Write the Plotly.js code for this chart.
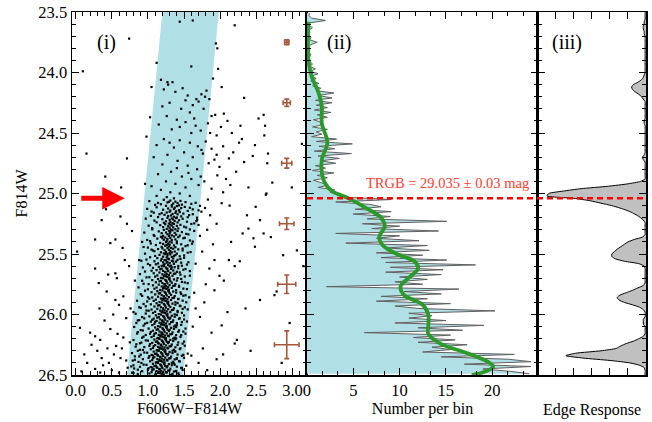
<!DOCTYPE html>
<html><head><meta charset="utf-8">
<script src="https://cdn.plot.ly/plotly-3.0.1.min.js"></script>
<style>html,body{margin:0;padding:0;background:#fff}</style>
</head><body><div id="chart" style="width:652px;height:422px"></div>
<script>
// ---------- data ----------
const trgbMag = 25.04;
const trgbText = 'TRGB = 29.035 ± 0.03 mag';

// selection band corners (colour, magnitude)
const bandColor = [1.20, 1.98, 1.49, 0.71];
const bandMag   = [23.5, 23.5, 26.5, 26.5];

// stars brighter than the TRGB [colour, F814W]
const starsBright = [[1.44,23.58],[1.62,23.57],[2.20,23.61],[0.74,23.72],[1.94,23.76],[1.96,23.80],[1.12,23.92],[1.60,23.95],[0.10,23.99],[1.97,23.97],
[1.18,24.06],[1.27,24.08],[1.34,24.08],[1.48,24.13],[1.05,24.12],[1.90,24.05],[2.02,24.12],[2.33,24.21],[1.81,24.15],[1.67,24.22],
[1.28,24.10],[1.22,24.14],[1.38,24.16],[1.74,24.18],[1.79,24.20],[1.70,24.24],[1.85,24.22],[1.55,24.19],[1.62,24.27],[1.30,24.25],
[1.20,24.28],[1.46,24.30],[1.77,24.30],[1.58,24.33],[1.88,24.36],[1.93,24.35],[2.05,24.34],[2.10,24.40],[1.26,24.36],[1.40,24.39],
[1.52,24.41],[1.66,24.44],[1.83,24.42],[2.01,24.45],[1.15,24.43],[1.33,24.47],[1.60,24.50],[1.73,24.48],[1.95,24.52],[2.16,24.50],
[1.03,24.37],[0.98,24.53],[1.22,24.55],[1.44,24.56],[1.58,24.58],[1.80,24.57],[1.69,24.61],[1.36,24.62],[1.12,24.60],[1.88,24.63],
[2.04,24.61],[2.26,24.58],[1.50,24.66],[1.27,24.68],[1.62,24.70],[1.76,24.67],[1.95,24.68],[2.12,24.71],[1.08,24.70],[1.41,24.73],
[1.20,24.76],[1.55,24.77],[1.84,24.75],[1.68,24.80],[1.32,24.82],[1.14,24.84],[1.47,24.86],[1.60,24.88],[1.25,24.90],[1.38,24.92],
[1.05,24.94],[1.52,24.95],[1.70,24.93],[1.18,24.97],[1.31,24.99],[1.44,25.00],[1.58,25.02],[1.26,25.03],[1.12,25.02],[1.36,25.04],
[2.53,24.38],[2.60,24.35],[2.62,24.44],[2.61,24.52],[2.66,24.67],[2.65,24.75],[2.72,24.91],[2.99,24.95],[3.13,24.59],[2.64,25.00],
[2.45,24.69],[2.33,24.74],[2.39,24.95],[2.22,24.82],[2.08,24.88],[1.96,24.85],[2.30,24.55],[2.18,24.66],[1.99,24.78],[2.48,24.60],
[0.15,24.67],[0.71,24.71],[0.41,24.86],[0.63,24.95],[0.96,24.92],[1.88,24.96],[2.04,24.99],[1.78,24.90],[1.52,24.23],[1.44,24.45],
[1.64,24.38],[1.86,24.50],[1.30,24.58],[1.74,24.64],[1.92,24.72],[1.56,24.83],[1.40,24.79],[1.73,24.86],[2.14,24.93],[2.28,24.44]];

// red giant branch stars fainter than the TRGB (core)
const starsRGB = [[1.22,25.052],[1.31,25.058],[1.45,25.061],[1.38,25.067],[1.52,25.071],[1.27,25.074],[1.41,25.079],[1.35,25.083],[1.60,25.086],[1.18,25.089],[1.47,25.092],[1.33,25.095],[1.43,25.098],[1.29,25.069],
[1.25,25.102],[1.40,25.104],[1.33,25.108],[1.51,25.111],[1.12,25.114],[1.37,25.117],[1.46,25.121],[1.28,25.124],[1.36,25.128],[1.62,25.131],[1.21,25.134],[1.43,25.137],[1.31,25.141],[1.55,25.144],[1.39,25.147],[1.05,25.149],
[1.30,25.151],[1.44,25.153],[1.26,25.157],[1.38,25.160],[1.19,25.163],[1.49,25.166],[1.34,25.169],[1.41,25.172],[1.23,25.176],[1.57,25.179],[1.32,25.182],[1.28,25.186],[1.46,25.189],[1.36,25.192],[1.14,25.195],[1.40,25.198],
[1.27,25.201],[1.39,25.203],[1.33,25.206],[1.48,25.209],[1.20,25.212],[1.35,25.215],[1.30,25.218],[1.43,25.221],[1.09,25.224],[1.37,25.227],[1.25,25.230],[1.54,25.233],[1.31,25.236],[1.41,25.239],[1.22,25.242],[1.34,25.245],[1.64,25.247],[1.29,25.249],
[1.36,25.251],[1.24,25.254],[1.31,25.257],[1.45,25.259],[1.17,25.262],[1.33,25.265],[1.40,25.268],[1.28,25.271],[1.50,25.274],[1.21,25.277],[1.35,25.280],[1.30,25.283],[1.06,25.286],[1.42,25.289],[1.26,25.292],[1.38,25.295],[1.58,25.297],[1.32,25.299],
[1.22,25.301],[1.34,25.304],[1.29,25.307],[1.41,25.310],[1.15,25.313],[1.31,25.316],[1.47,25.319],[1.25,25.322],[1.37,25.325],[1.19,25.328],[1.30,25.331],[1.53,25.334],[1.27,25.337],[1.39,25.340],[1.08,25.343],[1.33,25.346],[1.44,25.348],[1.21,25.350],
[1.29,25.352],[1.36,25.355],[1.18,25.358],[1.42,25.361],[1.24,25.364],[1.31,25.367],[1.49,25.370],[1.13,25.373],[1.27,25.376],[1.38,25.379],[1.22,25.382],[1.33,25.385],[1.58,25.388],[1.26,25.391],[1.03,25.394],[1.40,25.396],[1.30,25.398],[1.20,25.369],
[1.25,25.402],[1.33,25.405],[1.17,25.408],[1.40,25.411],[1.28,25.414],[1.21,25.417],[1.46,25.420],[1.30,25.423],[1.11,25.426],[1.36,25.429],[1.24,25.432],[1.52,25.435],[1.29,25.438],[1.19,25.441],[1.38,25.444],[1.00,25.447],[1.32,25.449],[1.26,25.427],
[1.27,25.451],[1.20,25.453],[1.35,25.456],[1.14,25.459],[1.42,25.462],[1.29,25.465],[1.23,25.468],[1.48,25.471],[1.31,25.474],[1.09,25.477],[1.37,25.480],[1.25,25.483],[1.18,25.486],[1.55,25.489],[1.30,25.492],[1.22,25.495],[1.40,25.497],[1.27,25.499],[1.05,25.464],[1.33,25.487],
[1.24,25.501],[1.31,25.504],[1.16,25.507],[1.38,25.510],[1.27,25.513],[1.10,25.516],[1.44,25.519],[1.21,25.522],[1.33,25.525],[1.26,25.528],[1.50,25.531],[1.13,25.534],[1.35,25.537],[1.19,25.540],[1.29,25.543],[0.98,25.546],[1.41,25.548],[1.23,25.550],[1.36,25.515],[1.28,25.538],
[1.25,25.552],[1.18,25.554],[1.33,25.557],[1.09,25.560],[1.39,25.563],[1.27,25.566],[1.21,25.569],[1.46,25.572],[1.30,25.575],[1.14,25.578],[1.36,25.581],[1.23,25.584],[1.54,25.587],[1.28,25.590],[1.03,25.593],[1.32,25.596],[1.19,25.598],[1.42,25.599],[1.26,25.571],[1.11,25.585],[1.35,25.562],[1.22,25.591],
[1.22,25.601],[1.30,25.603],[1.15,25.606],[1.37,25.609],[1.25,25.612],[1.07,25.615],[1.42,25.618],[1.19,25.621],[1.32,25.624],[1.27,25.627],[1.49,25.630],[1.12,25.633],[1.35,25.636],[1.21,25.639],[1.28,25.642],[0.96,25.645],[1.40,25.647],[1.24,25.649],[1.17,25.626],[1.33,25.611],[1.58,25.641],[1.26,25.620],
[1.24,25.651],[1.16,25.653],[1.31,25.656],[1.08,25.659],[1.38,25.662],[1.26,25.665],[1.20,25.668],[1.45,25.671],[1.29,25.674],[1.13,25.677],[1.34,25.680],[1.22,25.683],[1.51,25.686],[1.27,25.689],[1.02,25.692],[1.30,25.695],[1.18,25.697],[1.41,25.699],[1.23,25.672],[1.10,25.687],[1.36,25.663],[1.25,25.684],
[1.21,25.701],[1.29,25.704],[1.14,25.707],[1.36,25.710],[1.24,25.713],[1.06,25.716],[1.40,25.719],[1.18,25.722],[1.31,25.725],[1.26,25.728],[1.47,25.731],[1.11,25.734],[1.33,25.737],[1.20,25.740],[1.27,25.743],[0.94,25.746],[1.38,25.748],[1.23,25.750],[1.16,25.726],[1.30,25.711],[1.55,25.741],[1.25,25.720],
[1.23,25.751],[1.15,25.753],[1.30,25.756],[1.07,25.759],[1.37,25.762],[1.25,25.765],[1.19,25.768],[1.43,25.771],[1.28,25.774],[1.12,25.777],[1.33,25.780],[1.21,25.783],[1.49,25.786],[1.26,25.789],[1.00,25.792],[1.29,25.795],[1.17,25.797],[1.39,25.799],[1.22,25.772],[1.09,25.787],[1.35,25.763],[1.24,25.784],
[1.20,25.801],[1.28,25.804],[1.13,25.807],[1.35,25.810],[1.23,25.813],[1.05,25.816],[1.39,25.819],[1.17,25.822],[1.30,25.825],[1.25,25.828],[1.46,25.831],[1.10,25.834],[1.32,25.837],[1.19,25.840],[1.26,25.843],[0.92,25.846],[1.37,25.848],[1.22,25.850],[1.15,25.826],[1.29,25.811],[1.52,25.841],[1.24,25.820],
[1.22,25.851],[1.14,25.853],[1.29,25.856],[1.06,25.859],[1.36,25.862],[1.24,25.865],[1.18,25.868],[1.42,25.871],[1.27,25.874],[1.11,25.877],[1.32,25.880],[1.20,25.883],[1.48,25.886],[1.25,25.889],[0.99,25.892],[1.28,25.895],[1.16,25.897],[1.38,25.899],[1.21,25.872],[1.08,25.887],[1.34,25.863],[1.23,25.884],[1.57,25.858],[1.02,25.869],
[1.19,25.901],[1.27,25.904],[1.12,25.907],[1.34,25.910],[1.22,25.913],[1.04,25.916],[1.38,25.919],[1.16,25.922],[1.29,25.925],[1.24,25.928],[1.45,25.931],[1.09,25.934],[1.31,25.937],[1.18,25.940],[1.25,25.943],[0.90,25.946],[1.36,25.948],[1.21,25.950],[1.14,25.926],[1.28,25.911],[1.51,25.941],[1.23,25.920],[0.97,25.932],[1.41,25.905],
[1.21,25.951],[1.13,25.953],[1.28,25.956],[1.05,25.959],[1.35,25.962],[1.23,25.965],[1.17,25.968],[1.41,25.971],[1.26,25.974],[1.10,25.977],[1.31,25.980],[1.19,25.983],[1.47,25.986],[1.24,25.989],[0.97,25.992],[1.27,25.995],[1.15,25.997],[1.37,25.999],[1.20,25.972],[1.07,25.987],[1.33,25.963],[1.22,25.984],[1.55,25.958],[1.01,25.969],
[1.18,26.001],[1.26,26.004],[1.11,26.007],[1.33,26.010],[1.21,26.013],[1.02,26.016],[1.37,26.019],[1.15,26.022],[1.28,26.025],[1.23,26.028],[1.44,26.031],[1.08,26.034],[1.30,26.037],[1.17,26.040],[1.24,26.043],[0.88,26.046],[1.35,26.048],[1.20,26.050],[1.13,26.026],[1.27,26.011],[1.50,26.041],[1.22,26.020],[0.95,26.032],[1.40,26.005],[1.06,26.044],[1.31,26.027],
[1.20,26.051],[1.12,26.053],[1.27,26.056],[1.04,26.059],[1.34,26.062],[1.22,26.065],[1.16,26.068],[1.40,26.071],[1.25,26.074],[1.09,26.077],[1.30,26.080],[1.18,26.083],[1.46,26.086],[1.23,26.089],[0.94,26.092],[1.26,26.095],[1.14,26.097],[1.36,26.099],[1.19,26.072],[1.06,26.087],[1.32,26.063],[1.21,26.084],[1.54,26.058],[0.99,26.069],[1.38,26.091],[1.10,26.060],
[1.17,26.101],[1.25,26.104],[1.10,26.107],[1.32,26.110],[1.20,26.113],[1.01,26.116],[1.36,26.119],[1.14,26.122],[1.27,26.125],[1.22,26.128],[1.43,26.131],[1.07,26.134],[1.29,26.137],[1.16,26.140],[1.23,26.143],[0.86,26.146],[1.34,26.148],[1.19,26.150],[1.12,26.126],[1.26,26.111],[1.49,26.141],[1.21,26.120],[0.93,26.132],[1.39,26.105],[1.04,26.144],[1.30,26.127],
[1.19,26.151],[1.11,26.153],[1.26,26.156],[1.03,26.159],[1.33,26.162],[1.21,26.165],[1.15,26.168],[1.39,26.171],[1.24,26.174],[1.08,26.177],[1.29,26.180],[1.17,26.183],[1.45,26.186],[1.22,26.189],[0.92,26.192],[1.25,26.195],[1.13,26.197],[1.35,26.199],[1.18,26.172],[1.05,26.187],[1.31,26.163],[1.20,26.184],[1.52,26.158],[0.97,26.169],[1.37,26.191],[1.09,26.160],[1.28,26.176],[1.14,26.194],
[1.16,26.201],[1.24,26.204],[1.09,26.207],[1.31,26.210],[1.19,26.213],[1.00,26.216],[1.35,26.219],[1.13,26.222],[1.26,26.225],[1.21,26.228],[1.42,26.231],[1.06,26.234],[1.28,26.237],[1.15,26.240],[1.22,26.243],[0.84,26.246],[1.33,26.248],[1.18,26.250],[1.11,26.226],[1.25,26.211],[1.48,26.241],[1.20,26.220],[0.91,26.232],[1.38,26.205],[1.03,26.244],[1.29,26.227],[1.14,26.236],[0.97,26.214],
[1.18,26.251],[1.10,26.253],[1.25,26.256],[1.02,26.259],[1.32,26.262],[1.20,26.265],[1.14,26.268],[1.38,26.271],[1.23,26.274],[1.07,26.277],[1.28,26.280],[1.16,26.283],[1.44,26.286],[1.21,26.289],[0.89,26.292],[1.24,26.295],[1.12,26.297],[1.34,26.299],[1.17,26.272],[1.04,26.287],[1.30,26.263],[1.19,26.284],[1.51,26.258],[0.95,26.269],[1.36,26.291],[1.08,26.260],[1.27,26.276],[1.13,26.294],
[1.15,26.301],[1.23,26.304],[1.08,26.307],[1.30,26.310],[1.18,26.313],[0.99,26.316],[1.34,26.319],[1.12,26.322],[1.25,26.325],[1.20,26.328],[1.41,26.331],[1.05,26.334],[1.27,26.337],[1.14,26.340],[1.21,26.343],[0.82,26.346],[1.32,26.348],[1.17,26.350],[1.10,26.326],[1.24,26.311],[1.47,26.341],[1.19,26.320],[0.90,26.332],[1.37,26.305],[1.02,26.344],[1.28,26.327],[1.13,26.336],[0.95,26.314],[1.55,26.323],[1.07,26.339],
[1.17,26.351],[1.09,26.353],[1.24,26.356],[1.01,26.359],[1.31,26.362],[1.19,26.365],[1.13,26.368],[1.37,26.371],[1.22,26.374],[1.06,26.377],[1.27,26.380],[1.15,26.383],[1.43,26.386],[1.20,26.389],[0.87,26.392],[1.23,26.395],[1.11,26.397],[1.33,26.399],[1.16,26.372],[1.03,26.387],[1.29,26.363],[1.18,26.384],[1.50,26.358],[0.93,26.369],[1.35,26.391],[1.07,26.360],[1.26,26.376],[1.12,26.394],[0.79,26.381],[1.40,26.366],
[1.14,26.401],[1.22,26.404],[1.07,26.407],[1.29,26.410],[1.17,26.413],[0.98,26.416],[1.33,26.419],[1.11,26.422],[1.24,26.425],[1.19,26.428],[1.40,26.431],[1.04,26.434],[1.26,26.437],[1.13,26.440],[1.20,26.443],[0.81,26.446],[1.31,26.448],[1.16,26.450],[1.09,26.426],[1.23,26.411],[1.46,26.441],[1.18,26.420],[0.89,26.432],[1.36,26.405],[1.01,26.444],[1.27,26.427],[1.12,26.436],[0.94,26.414],[1.53,26.423],[1.06,26.439],
[1.16,26.451],[1.08,26.453],[1.23,26.456],[1.00,26.459],[1.30,26.462],[1.18,26.465],[1.12,26.468],[1.36,26.471],[1.21,26.474],[1.05,26.477],[1.26,26.480],[1.14,26.483],[1.42,26.486],[1.19,26.489],[0.86,26.492],[1.22,26.495],[1.10,26.497],[1.32,26.499],[1.15,26.472],[1.02,26.487],[1.28,26.463],[1.17,26.484],[1.48,26.458],[0.92,26.469],[1.34,26.491],[1.06,26.460],[1.25,26.476],[1.11,26.494],[0.78,26.481],[1.39,26.466]];

// red giant branch stars on the blue and red wings of the branch
const starsRGBwings = [[1.02,25.063],[1.66,25.077],[1.10,25.094],[1.58,25.118],[0.99,25.127],[1.70,25.139],[1.08,25.158],[1.62,25.171],[1.04,25.185],[1.55,25.196],
[0.97,25.208],[1.68,25.219],[1.12,25.238],[1.60,25.252],[1.01,25.266],[1.53,25.281],[1.06,25.296],[1.64,25.309],[0.95,25.323],[1.56,25.338],
[1.09,25.351],[1.51,25.366],[0.99,25.384],[1.62,25.397],[1.04,25.413],[1.55,25.428],[0.94,25.442],[1.48,25.455],[1.07,25.471],[1.59,25.484],
[0.96,25.497],[1.50,25.512],[1.03,25.527],[1.45,25.541],[0.91,25.556],[1.56,25.568],[1.00,25.582],[1.47,25.597],[0.93,25.611],[1.52,25.624],
[1.05,25.638],[1.44,25.652],[0.89,25.666],[1.58,25.679],[0.98,25.693],[1.46,25.706],[0.92,25.721],[1.51,25.735],[1.01,25.749],[1.43,25.762],
[0.87,25.776],[1.54,25.790],[0.96,25.803],[1.45,25.817],[0.90,25.832],[1.49,25.845],[1.00,25.858],[1.42,25.873],[0.85,25.886],[1.53,25.899],
[0.94,25.913],[1.44,25.927],[0.88,25.940],[1.48,25.954],[0.98,25.967],[1.41,25.981],[0.83,25.994],[1.50,26.008],[0.92,26.021],[1.43,26.035],
[0.86,26.049],[1.47,26.062],[0.96,26.076],[1.40,26.089],[0.81,26.103],[1.52,26.116],[0.90,26.129],[1.42,26.143],[0.85,26.157],[1.46,26.170],
[0.94,26.183],[1.39,26.197],[0.80,26.211],[1.50,26.224],[0.89,26.238],[1.41,26.252],[0.83,26.266],[1.45,26.279],[0.93,26.293],[1.38,26.306],
[0.78,26.319],[1.49,26.333],[0.88,26.347],[1.40,26.360],[0.82,26.374],[1.44,26.388],[0.91,26.401],[1.37,26.415],[0.77,26.429],[1.47,26.442],
[0.86,26.456],[1.39,26.470],[0.80,26.484],[1.43,26.497],[1.72,25.102],[1.67,25.228],[1.61,25.415],[1.14,25.078],[1.16,25.171]];

// field stars fainter than the TRGB, outside the RGB
const starsField = [[0.71,25.25],[0.55,25.38],[0.27,25.38],[0.02,25.48],[0.48,25.41],[0.27,25.62],[0.32,25.74],[0.45,25.67],[0.55,25.66],[0.57,25.70],
[0.43,25.81],[0.66,25.85],[0.06,26.11],[0.27,26.18],[0.34,26.21],[0.42,25.13],[0.36,25.22],[0.62,25.19],[0.78,25.31],[0.68,25.55],
[0.74,25.60],[0.82,25.72],[0.60,25.92],[0.76,25.95],[0.52,26.00],[0.70,26.03],[0.40,26.05],[0.84,26.07],[0.22,26.25],[0.48,26.12],
[0.58,26.16],[0.66,26.19],[0.75,26.23],[0.44,26.28],[0.30,26.30],[0.53,26.33],[0.62,26.36],[0.70,26.38],[0.16,26.40],[0.38,26.42],
[0.27,26.45],[0.50,26.46],[0.60,26.48],[0.08,26.47],[0.72,26.44],[0.12,26.33],[0.36,26.36],[0.20,26.15],[0.86,26.30],[0.55,25.88],
[0.33,25.95],[0.80,25.98],[0.92,25.40],[0.88,25.55],[0.65,25.45],[0.46,26.40],[0.56,26.26],[0.80,26.42],[0.34,26.48],[0.64,26.28],
[1.79,25.12],[1.86,25.18],[2.02,25.08],[2.13,25.10],[2.37,25.18],[2.49,25.11],[2.63,25.01],[2.39,25.29],[2.31,25.33],[2.60,25.33],
[2.46,25.37],[2.70,25.36],[2.87,25.51],[3.06,25.47],[3.15,25.60],[2.48,25.44],[2.27,25.56],[2.20,25.60],[1.99,25.68],[2.12,25.55],
[2.78,25.81],[2.75,25.84],[2.55,25.88],[2.02,26.09],[2.23,26.21],[2.20,26.24],[2.04,26.33],[2.85,26.40],[2.96,26.07],[1.82,25.30],
[1.90,25.42],[1.75,25.48],[1.95,25.25],[1.85,25.62],[1.80,25.75],[1.92,25.80],[2.05,25.72],[1.78,25.90],[1.72,26.02],[1.88,26.15],
[1.76,26.28],[1.70,26.40],[1.82,26.46],[1.95,26.37],[2.35,25.95],[2.15,25.40],[2.55,25.22],[2.42,26.30],[1.68,25.20],[1.72,25.35],
[1.66,25.58],[1.64,25.82],[1.62,26.10],[1.60,26.34],[2.10,25.98],[1.74,25.15],[1.83,25.05],[1.70,25.26],[1.92,25.55],[1.66,25.95]];

// photometric error bars
const errColor = [2.92, 2.92, 2.92, 2.92, 2.92, 2.92];
const errMag   = [23.75, 24.25, 24.75, 25.25, 25.75, 26.25];
const errDC    = [0.03, 0.05, 0.07, 0.10, 0.125, 0.17];
const errDM    = [0.02, 0.03, 0.04, 0.047, 0.077, 0.115];

// luminosity function: counts per 0.02 mag bin from 23.51 to 26.49
const histCounts = [0.3,0.2,0.5,2.0,0.3,0.2,0.6,0.2,0.3,0.2,0.4,0.3,1.1,0.4,0.2,0.3,0.2,0.4,0.3,0.2,0.3,0.6,0.3,0.9,0.4,
1.2,0.5,1.0,0.4,1.3,0.6,1.5,1.0,2.9,1.2,2.7,0.9,2.7,1.0,2.2,0.8,2.6,1.1,2.2,0.7,1.5,1.8,0.6,2.2,1.0,
1.6,0.5,3.2,1.0,4.9,1.3,3.0,0.8,4.8,1.2,3.5,1.5,3.1,0.9,2.0,0.6,2.9,1.1,2.2,0.7,1.5,2.3,1.2,3.0,2.5,
3.5,4.0,9.1,3.1,6.8,8.0,5.2,9.1,5.0,9.0,6.5,15.1,6.0,10.0,7.0,14.2,3.1,10.0,7.5,12.1,4.2,13.0,8.5,13.2,7.5,
12.5,8.0,15.1,8.5,18.2,9.0,14.7,8.5,14.5,10.0,13.0,9.5,12.5,2.1,16.4,10.5,14.5,8.0,13.0,7.5,15.5,9.5,12.0,20.3,11.0,
13.5,11.0,15.0,9.5,19.1,12.0,16.8,6.2,15.5,11.5,16.0,12.0,17.3,13.5,15.5,12.5,22.4,14.5,21.8,24.2,17.0,24.2,19.0,22.0,24.0];
const histStart = 23.51, histStep = 0.02;

// smoothed luminosity function
const smoothCounts = [0.16,0.16,0.5,1.26,1.6,1.6,2.2,1.6,1.8,2.7,4.5,6.4,8.0,8.4,7.8,8.2,10.0,11.6,12.0,11.1,10.1,10.5,12.5,13.1,13.1,13.1,14.4,17.3,19.5,20.1,19.3,17.8];
const smoothMag    = [23.58,23.9,24.03,24.17,24.28,24.42,24.58,24.72,24.89,24.98,25.04,25.12,25.2,25.27,25.36,25.43,25.51,25.56,25.62,25.69,25.77,25.84,25.92,26.0,26.1,26.16,26.24,26.32,26.39,26.43,26.47,26.5];

// edge-detection response, every 0.02 mag from 23.50 to 26.50
const edgeResp = [0.01,0.01,0.01,0.01,0.02,0.02,0.03,0.03,0.02,0.02,0.01,0.01,0.01,0.01,0.01,0.01,0.01,0.01,0.01,0.01,0.01,0.01,0.01,0.01,0.01,
0.01,0.02,0.03,0.05,0.09,0.14,0.16,0.15,0.12,0.08,0.05,0.03,0.01,0.01,0.01,0.01,0.01,0.01,0.01,0.01,0.02,0.02,0.01,0.01,0.01,
0.01,0.01,0.01,0.01,0.01,0.01,0.01,0.01,0.01,0.02,0.04,0.03,0.01,0.01,0.01,0.01,0.01,0.01,0.01,0.01,0.06,0.20,0.42,0.72,0.92,1.08,
1.10,0.80,0.62,0.50,0.38,0.29,0.21,0.15,0.10,0.06,0.03,0.01,0.01,0.01,0.01,0.01,0.01,0.04,0.13,0.20,0.24,0.28,0.32,0.35,0.38,
0.38,0.34,0.24,0.08,0.02,0.01,0.01,0.01,0.01,0.01,0.01,0.01,0.03,0.09,0.15,0.22,0.29,0.32,0.30,0.24,0.15,0.07,0.03,0.01,0.01,
0.01,0.03,0.03,0.03,0.01,0.01,0.01,0.01,0.03,0.08,0.14,0.22,0.28,0.33,0.50,0.78,0.89,0.70,0.40,0.18,0.07,0.02,0.01,0.01,0.01,0.01];
const edgeStart = 23.50, edgeStep = 0.02;

// ---------- build ----------
const histMag = histCounts.map((_, i) => +(histStart + histStep * i).toFixed(3));
const edgeMag = edgeResp.map((_, i) => +(edgeStart + edgeStep * i).toFixed(3));
const allStars = starsBright.concat(starsRGB, starsRGBwings, starsField);

const FONT = 'Liberation Serif, Times New Roman, serif';
const d1 = 0.4094, d2 = 0.8118;

const traces = [
  {x: bandColor, y: bandMag, xaxis: 'x', yaxis: 'y', mode: 'none', fill: 'toself',
   fillcolor: '#b0dfe6', hoverinfo: 'skip', type: 'scatter'},
  {x: allStars.map(s => s[0]), y: allStars.map(s => s[1]), xaxis: 'x', yaxis: 'y', mode: 'markers',
   marker: {color: '#000', size: 2.2, symbol: 'square'}, type: 'scatter'},
  {x: errColor, y: errMag, xaxis: 'x', yaxis: 'y', mode: 'markers', marker: {size: 1, color: '#a5573a', opacity: 0},
   error_x: {type: 'data', array: errDC, color: '#a5573a', thickness: 1.6, width: 2.5},
   error_y: {type: 'data', array: errDM, color: '#a5573a', thickness: 1.6, width: 2.5}, type: 'scatter'},
  {x: histCounts, y: histMag, xaxis: 'x2', yaxis: 'y2', mode: 'lines', fill: 'tozerox', fillcolor: '#b0dfe6',
   line: {color: '#606060', width: 1}, type: 'scatter'},
  {x: smoothCounts, y: smoothMag, xaxis: 'x2', yaxis: 'y2', mode: 'lines',
   line: {color: '#2b9a2b', width: 3.8, shape: 'spline', smoothing: 1}, type: 'scatter'},
  {x: edgeResp, y: edgeMag, xaxis: 'x3', yaxis: 'y3', mode: 'lines', fill: 'tozerox', fillcolor: '#c0c0c0',
   line: {color: '#000', width: 1, shape: 'spline', smoothing: 0.6}, type: 'scatter'}
];

const axBase = {showline: true, linecolor: '#000', linewidth: 1.5, mirror: 'allticks', ticks: 'inside',
  ticklen: 7, tickwidth: 1, tickcolor: '#000', showgrid: false, zeroline: false,
  tickfont: {family: FONT, size: 16.5, color: '#000'}};
const yBase = Object.assign({}, axBase, {range: [26.5, 23.5], tick0: 23.5, dtick: 0.5,
  minor: {ticks: 'inside', dtick: 0.1, ticklen: 4, tickcolor: '#000'}});

const layout = {
  width: 652, height: 422, margin: {l: 72, r: 6, t: 12, b: 47},
  paper_bgcolor: '#fff', plot_bgcolor: '#fff', showlegend: false,
  font: {family: FONT, color: '#000'},
  xaxis: Object.assign({}, axBase, {domain: [0, d1], anchor: 'y', range: [-0.05, 3.2], tick0: 0, dtick: 0.5,
    tickformat: '.1f', minor: {ticks: 'inside', dtick: 0.1, ticklen: 4, tickcolor: '#000'},
    title: {text: 'F606W−F814W', font: {family: FONT, size: 16}, standoff: 2}}),
  yaxis: Object.assign({}, yBase, {domain: [0, 1], anchor: 'x', tickformat: '.1f',
    title: {text: 'F814W', font: {family: FONT, size: 16}, standoff: 6}}),
  xaxis2: Object.assign({}, axBase, {domain: [d1, d2], anchor: 'y2', range: [0, 24.95], tick0: 0, dtick: 5,
    minor: {ticks: 'inside', dtick: 5/3, ticklen: 4, tickcolor: '#000'},
    title: {text: 'Number per bin', font: {family: FONT, size: 16}, standoff: 2}}),
  yaxis2: Object.assign({}, yBase, {domain: [0, 1], anchor: 'x2', showticklabels: false}),
  xaxis3: Object.assign({}, axBase, {domain: [d2, 1], anchor: 'y3', range: [1.2, 0], tick0: 0, dtick: 0.2,
    showticklabels: false, title: {text: 'Edge Response', font: {family: FONT, size: 16}, standoff: 28}}),
  yaxis3: Object.assign({}, yBase, {domain: [0, 1], anchor: 'x3', showticklabels: false}),
  shapes: [
    {type: 'line', xref: 'paper', x0: d1, x1: 1, yref: 'y2', y0: trgbMag, y1: trgbMag,
     line: {color: '#ff0000', width: 2.5, dash: '6px,4px'}}
  ],
  annotations: [
    {xref: 'x', yref: 'y', x: 0.68, y: trgbMag, ax: -45, ay: 0, showarrow: true, text: '',
     arrowcolor: '#ff0000', arrowwidth: 5, arrowhead: 2, arrowsize: 0.9, standoff: 0},
    {xref: 'x', yref: 'y', x: 0.43, y: 23.756, text: '(i)', showarrow: false, font: {family: FONT, size: 20}},
    {xref: 'x2', yref: 'y2', x: 3.44, y: 23.756, text: '(ii)', showarrow: false, font: {family: FONT, size: 20}},
    {xref: 'x3', yref: 'y3', x: 0.88, y: 23.756, text: '(iii)', showarrow: false, font: {family: FONT, size: 20}},
    {xref: 'x2', yref: 'y2', x: 24.2, y: 24.91, xanchor: 'right', text: trgbText, showarrow: false,
     font: {family: FONT, size: 14.5, color: '#ff3b2f'}}
  ]
};

Plotly.newPlot('chart', traces, layout, {staticPlot: true, displayModeBar: false});
</script>
</body></html>
